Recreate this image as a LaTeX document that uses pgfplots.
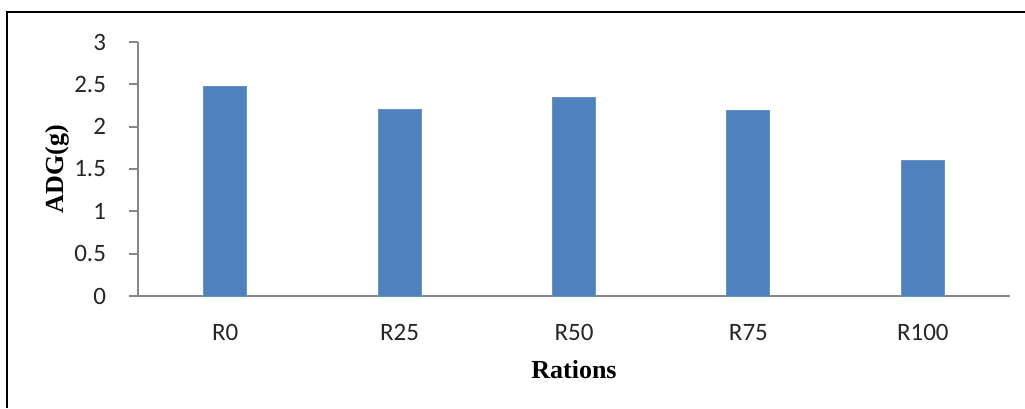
\documentclass[border=0pt]{standalone}
\usepackage{fontspec}
\setmainfont{Carlito}
\newfontfamily\timesfont{Liberation Serif}
\usepackage{pgfplots}
\pgfplotsset{compat=1.18}
\definecolor{barblue}{HTML}{4F81BD}
\definecolor{axgray}{HTML}{868686}
\begin{document}
\begin{tikzpicture}
\path[use as bounding box] (0,0) rectangle (512.5pt,204pt);
\draw[line width=0.7pt,black] (3.5pt,0) -- (3.5pt,198pt) -- (512.5pt,198pt);
\begin{axis}[
  at={(69pt,56pt)}, anchor=south west,
  scale only axis, width=436pt, height=127pt,
  xmin=-0.5, xmax=4.5, ymin=0, ymax=3,
  ytick={0,0.5,1,1.5,2,2.5,3},
  yticklabels={0,0.5,1,1.5,2,2.5,3},
  xtick={0,1,2,3,4},
  xticklabels={R0,R25,R50,R75,R100},
  axis x line*=bottom, axis y line*=left,
  x axis line style={axgray, line width=0.9pt, -},
  y axis line style={axgray, line width=0.9pt, -},
  major x tick style={draw=none},
  major y tick style={axgray, line width=0.9pt},
  tick align=outside, major tick length=4.5pt,
  tick label style={font=\fontsize{12.5}{14}\selectfont, text=black!85},
  yticklabel style={xshift=-8pt},
  xticklabel style={yshift=-6pt},
  /pgf/number format/assume math mode=true,
  xlabel={Rations}, ylabel={ADG(g)},
  every axis x label/.style={at={(axis description cs:0.5,0)}, anchor=center, yshift=-37pt, font=\timesfont\bfseries\fontsize{13}{15}\selectfont},
  every axis y label/.style={at={(axis description cs:-0.093,0.5)}, anchor=center, rotate=90, font=\timesfont\bfseries\fontsize{13}{15}\selectfont},
  clip=false,
]
\addplot[ybar, bar width=21.5pt, fill=barblue, draw=barblue!85!white, line width=0.4pt] coordinates {
  (0,2.48) (1,2.20) (2,2.34) (3,2.19) (4,1.605)
};
\end{axis}
\end{tikzpicture}
\end{document}
